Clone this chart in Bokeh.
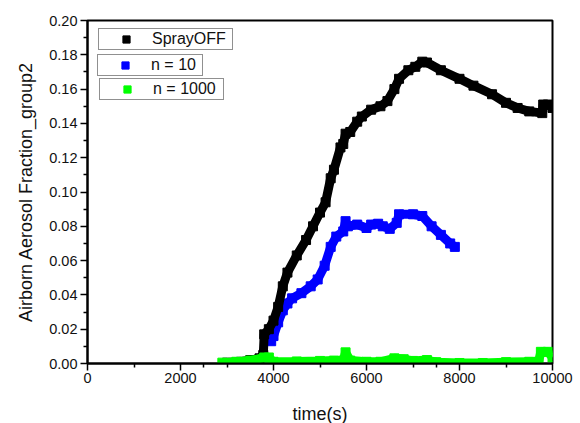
from bokeh.plotting import figure
from bokeh.models import Range1d, FixedTicker, Legend, LegendItem, NumeralTickFormatter
from bokeh.embed import file_html
from bokeh.resources import INLINE

# ---- data ----
spray_t = [3000, 3300, 3500, 3700, 3780, 3800, 3900, 4000, 4100, 4200, 4300, 4500, 4700,
           4850, 5000, 5120, 5230, 5300, 5440, 5500, 5550, 5650, 5800, 5900, 6100, 6300,
           6450, 6600, 6700, 6900, 7050, 7200, 7300, 7600, 8000, 8300, 8700, 9000, 9250,
           9500, 9780, 9800, 9900, 10000]
spray_v = [0.0005, 0.001, 0.002, 0.003, 0.005, 0.017, 0.020, 0.025, 0.033, 0.045, 0.053,
           0.063, 0.072, 0.080, 0.088, 0.094, 0.108, 0.113, 0.126, 0.128, 0.134, 0.135,
           0.141, 0.144, 0.148, 0.150, 0.153, 0.160, 0.166, 0.171, 0.173, 0.176, 0.1755,
           0.171, 0.166, 0.162, 0.157, 0.152, 0.149, 0.147, 0.146, 0.151, 0.151, 0.149]

n10_t = [3950, 4000, 4100, 4200, 4300, 4400, 4600, 4800, 4950, 5100, 5230, 5350, 5500,
         5550, 5600, 5800, 6000, 6100, 6250, 6350, 6500, 6650, 6700, 7000, 7200, 7400,
         7600, 7800, 7900]
n10_v = [0.013, 0.016, 0.024, 0.031, 0.035, 0.038, 0.041, 0.045, 0.049, 0.057, 0.068,
         0.074, 0.077, 0.083, 0.080, 0.081, 0.079, 0.081, 0.0815, 0.080, 0.0785, 0.082,
         0.087, 0.087, 0.086, 0.080, 0.075, 0.070, 0.068]

n1000_t = [2900, 3200, 3500, 3800, 3900, 4000, 4500, 5000, 5300, 5500, 5550, 5650, 6000,
           6300, 6600, 6800, 7000, 7300, 7500, 8000, 8500, 9000, 9500, 9700, 9750, 9900,
           10000]
n1000_v = [0.0005, 0.001, 0.0017, 0.0035, 0.0035, 0.001, 0.0012, 0.0015, 0.0017, 0.0017,
           0.0065, 0.0017, 0.001, 0.001, 0.003, 0.0025, 0.0015, 0.002, 0.0008, 0.0003,
           0.0003, 0.0008, 0.001, 0.001, 0.0068, 0.0068, 0.0035]

series_labels = ["SprayOFF", "n = 10", "n = 1000"]
x_major = [0, 2000, 4000, 6000, 8000, 10000]
x_minor = [1000, 2500, 3000, 5000, 7000, 7500, 9000]
y_major = [0.00, 0.02, 0.04, 0.06, 0.08, 0.10, 0.12, 0.14, 0.16, 0.18, 0.20]
y_minor = [0.01, 0.03, 0.05, 0.07, 0.09, 0.11, 0.13, 0.15, 0.17, 0.19]

FONT = "Liberation Sans"

p = figure(frame_width=465, frame_height=343,
           x_range=Range1d(0, 10000), y_range=Range1d(0, 0.20),
           output_backend="svg", toolbar_location=None,
           min_border_left=87, min_border_top=20, min_border_right=27, min_border_bottom=59)

p.xgrid.visible = False
p.ygrid.visible = False
p.outline_line_color = "black"
p.outline_line_width = 2
p.background_fill_color = "white"
p.border_fill_color = "white"

colors = ["#000000", "#0000FF", "#00FF00"]
order = [(n10_t, n10_v, colors[1]), (spray_t, spray_v, colors[0]), (n1000_t, n1000_v, colors[2])]
rend = {}
for t, v, c in order:
    p.line(t, v, line_width=9, line_color=c, line_join="bevel")
    rend[c] = p.scatter(t, v, marker="square", size=9, fill_color=c, line_color=c)

# axes
for ax in (p.xaxis[0], p.yaxis[0]):
    ax.axis_line_width = 2
    ax.axis_line_color = "black"
    ax.major_tick_in = 0
    ax.major_tick_out = 7
    ax.minor_tick_in = 0
    ax.minor_tick_out = 4
    ax.major_tick_line_width = 1.5
    ax.minor_tick_line_width = 1.5
    ax.major_label_text_font = FONT
    ax.major_label_text_font_size = "14.5px"
    ax.major_label_text_color = "#111111"
    ax.axis_label_text_font = FONT
    ax.axis_label_text_font_style = "normal"
    ax.axis_label_text_color = "#111111"

p.xaxis.ticker = FixedTicker(ticks=x_major, minor_ticks=x_minor)
p.yaxis.ticker = FixedTicker(ticks=y_major, minor_ticks=y_minor)
p.yaxis.formatter = NumeralTickFormatter(format="0.00")
p.xaxis.major_label_standoff = 2
p.yaxis.major_label_standoff = 3
p.xaxis.axis_label = "time(s)"
p.yaxis.axis_label = "Airborn Aerosol Fraction_group2"
p.xaxis.axis_label_text_font_size = "18px"
p.yaxis.axis_label_text_font_size = "18px"
p.xaxis.axis_label_standoff = 18
p.yaxis.axis_label_standoff = 10

# three separate legend boxes, as in the reference
legend_spec = [
    (series_labels[0], colors[0], (11, 313), 79),
    (series_labels[1], colors[1], (10, 287), 50),
    (series_labels[2], colors[2], (12, 263), 69),
]
for label, c, loc, lw in legend_spec:
    lg = Legend(items=[LegendItem(label=label, renderers=[rend[c]])], location=loc,
                padding=1, margin=0, spacing=0, glyph_width=52, glyph_height=18,
                label_height=18, label_width=lw, label_standoff=0,
                label_text_font=FONT, label_text_font_size="16px",
                label_text_color="#111111",
                border_line_color="#222222", border_line_width=1,
                background_fill_color="white", background_fill_alpha=1.0)
    p.add_layout(lg, "center")

open("out.html", "w").write(file_html(p, INLINE))
